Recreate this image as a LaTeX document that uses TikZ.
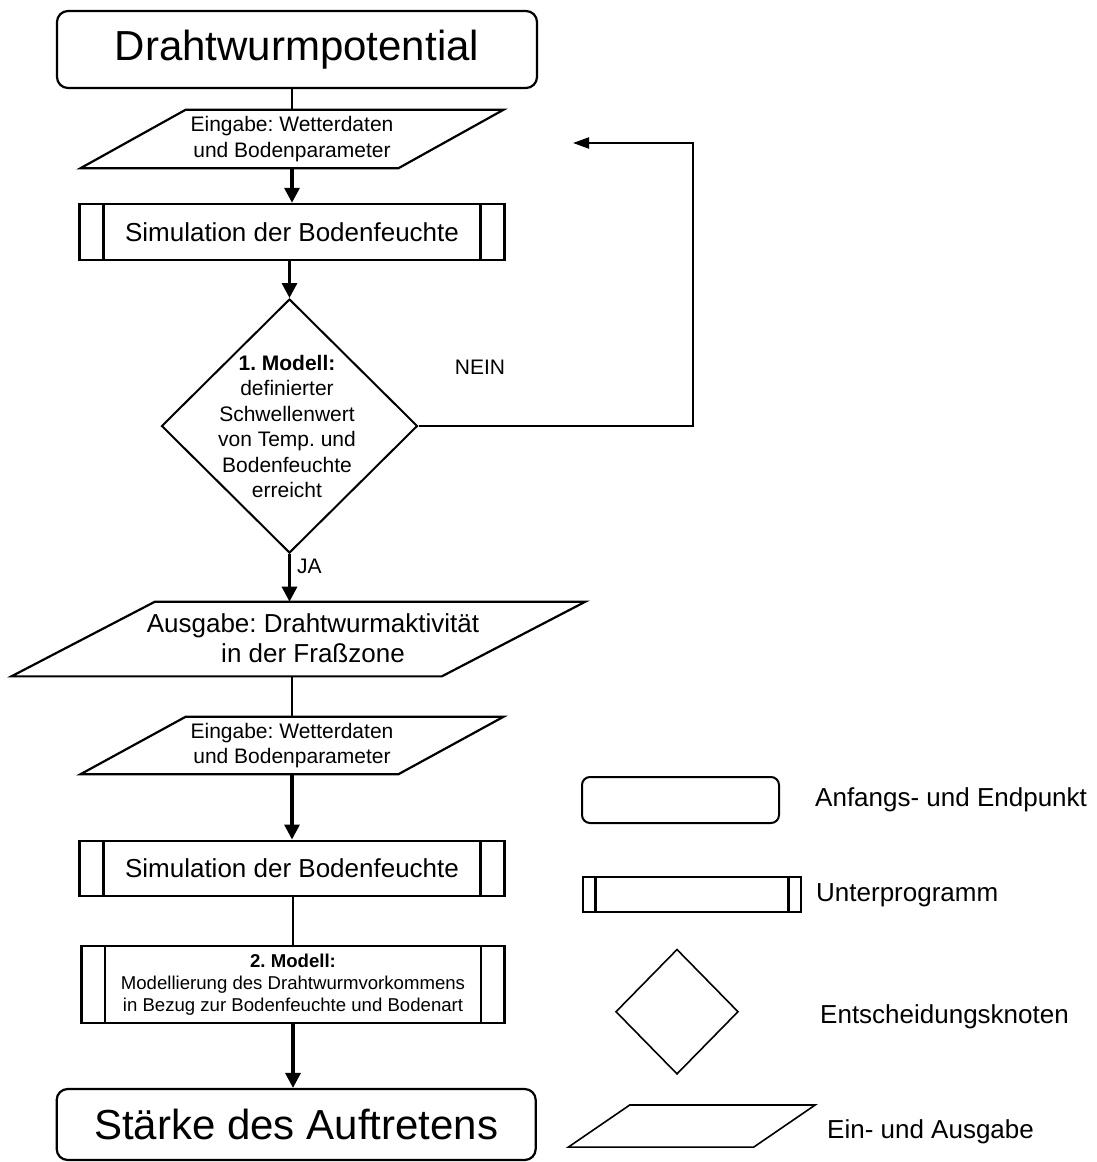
\documentclass[tikz,border=0pt]{standalone}
\usepackage{fontspec}
\setmainfont{Liberation Sans}
\frenchspacing
\usetikzlibrary{arrows.meta,shapes.geometric}

\begin{document}
\begin{tikzpicture}[x=1pt,y=-1pt,
    every node/.style={inner sep=0pt},
    term/.style={draw,line width=2.2pt,rounded corners=11pt},
    subprog/.style={draw,line width=2.4pt,
        path picture={\draw[line width=2.4pt]
            ([xshift=#1]path picture bounding box.north west) -- ([xshift=#1]path picture bounding box.south west)
            ([xshift=-#1]path picture bounding box.north east) -- ([xshift=-#1]path picture bounding box.south east);}},
    decision/.style={draw,diamond,line width=2pt},
    flow/.style={line width=3.2pt,-{Triangle[length=15pt,width=15pt]}},
    loopflow/.style={line width=2pt,-{Triangle[length=16pt,width=11pt]}},
    link/.style={line width=1.3pt},
    big/.style={font=\fontsize{42}{48}\selectfont},
    mid/.style={font=\fontsize{26}{30}\selectfont},
    small/.style={font=\fontsize{21}{25.5}\selectfont},
    tiny/.style={font=\fontsize{18.6}{21.8}\selectfont}]
    \useasboundingbox (0,0) rectangle (1097,1162);

    \node[term,big,minimum width=480pt,minimum height=77pt] (start) at (297,49.5) {Drahtwurmpotential};
    \node[small,align=center,minimum width=317.5pt,minimum height=58pt] (in1) at (292,139) {Eingabe: Wetterdaten\\und Bodenparameter};
    \node[subprog=24pt,mid,minimum width=425pt,minimum height=56pt] (sim1) at (292,232) {Simulation der Bodenfeuchte};
    \node[decision,minimum width=256pt,minimum height=254pt] (q1) at (289.5,426) {};
    \node[small,align=center] (q1txt) at (287,426.5) {\textbf{1. Modell:}\\definierter\\Schwellenwert\\von Temp. und\\Bodenfeuchte\\erreicht};
    \node[small] (nein) at (480,367) {NEIN};
    \node[small,anchor=west] (ja) at (297,566) {JA};
    \node[minimum width=430pt,minimum height=74.3pt] (out2) at (298.4,639) {};
    \node[mid,align=center] (out2txt) at (313,638) {Ausgabe: Drahtwurmaktivität\\in der Fraßzone};
    \node[small,align=center,minimum width=317.5pt,minimum height=57pt] (in2) at (292,745.5) {Eingabe: Wetterdaten\\und Bodenparameter};
    \node[subprog=24pt,mid,minimum width=425pt,minimum height=55pt] (sim2) at (292,868.2) {Simulation der Bodenfeuchte};
    \node[subprog=23.5pt,tiny,align=center,minimum width=423pt,minimum height=76.7pt] (mod2) at (293,984.4) {\textbf{2. Modell:}\\Modellierung des Drahtwurmvorkommens\\in Bezug zur Bodenfeuchte und Bodenart};
    \node[term,big,minimum width=479pt,minimum height=71pt] (stop) at (296.2,1124.5) {Stärke des Auftretens};

    \node[term,line width=2pt,rounded corners=8pt,minimum width=197pt,minimum height=46pt] (legterm) at (680.5,800) {};
    \node[subprog=12.6pt,minimum width=218pt,minimum height=35pt] (legsub) at (692,894.5) {};
    \node[decision,line width=1.6pt,minimum width=122.6pt,minimum height=125pt] (legdec) at (677,1011.7) {};
    \node[minimum width=185pt,minimum height=41.7pt] (legio) at (691.8,1126) {};
    \node[mid,anchor=west] (legtermtxt) at (815,800) {Anfangs- und Endpunkt};
    \node[mid,anchor=west] (legsubtxt) at (816,895) {Unterprogramm};
    \node[mid,anchor=west] (legdectxt) at (820,1016.7) {Entscheidungsknoten};
    \node[mid,anchor=west] (legiotxt) at (827,1131.7) {Ein- und Ausgabe};

    \foreach \n/\s/\w in {in1/52.5/2.2,out2/71.8/2.2,in2/52.5/2.2,legio/30.7/1.6}
        \draw[line width=\w pt] ([xshift=\s pt]\n.north west) -- ([xshift=\s pt]\n.north east) -- ([xshift=-\s pt]\n.south east) -- ([xshift=-\s pt]\n.south west) -- cycle;

    \coordinate (turn) at (693,143);
    \coordinate (back) at (573,143);
    \draw[link] (start.south -| in1.north) -- (in1.north);
    \draw[flow] (in1.south) -- (in1.south |- sim1.north);
    \draw[flow] (sim1.south -| q1.north) -- (q1.north);
    \draw[loopflow] (q1.east) -| (turn) -- (back);
    \draw[flow] (q1.south) -- (q1.south |- out2.north);
    \draw[link] (out2.south -| in2.north) -- (in2.north);
    \draw[flow] (in2.south) -- (in2.south |- sim2.north);
    \draw[link] (sim2.south -| mod2.north) -- (mod2.north);
    \draw[flow] (mod2.south) -- (mod2.south |- stop.north);
\end{tikzpicture}
\end{document}
